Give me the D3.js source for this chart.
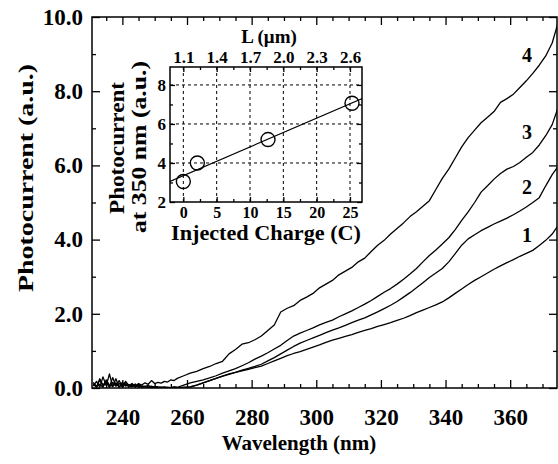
<!DOCTYPE html>
<html lang="en">
<head>
    <meta charset="UTF-8">
    <title>Photocurrent spectra</title>
    <script src="https://cdn.jsdelivr.net/npm/d3@7/dist/d3.min.js"></script>
    <style>
        body { margin: 0; background: #fff; }
        svg text { font-family: "Liberation Serif", "Times New Roman", serif; font-weight: bold; fill: #000; }
    </style>
</head>
<body>
<script>
    // wavelengths shared by all four spectra (nm)
    const wavelengths = [231, 232, 233, 234, 235, 236, 237, 238, 239, 240, 241, 242, 243, 244, 245, 246, 247, 248, 249, 250,
        251, 252, 253, 254, 255, 256, 257,
        259, 261, 263, 265, 267, 269, 271, 273, 275, 277, 279, 281, 283, 285, 287, 289, 291, 293, 295, 297, 299,
        301, 303, 305, 307, 309, 311, 313, 315, 317, 319, 321, 323, 325, 327, 329, 331, 333, 335, 337, 339,
        341, 343, 345, 347, 349, 351, 353, 355, 357, 359, 361, 363, 365, 367, 369, 371, 373, 375];

    // photocurrent (a.u.) of curves 1..4
    const curve1 = [0.15, 0.04, 0.10, 0.02, 0.22, 0.08, 0.05, 0.25, 0.03, 0.09, 0.14, 0.02, 0.07, 0.04, 0.10, 0.01, 0.05, 0.03, 0.00, 0.04,
        0.02, 0.01, 0.03, 0.00, 0.01, 0.00, 0.01,
        0.01, 0.03, 0.08, 0.14, 0.20, 0.26, 0.32, 0.37, 0.42, 0.46, 0.50, 0.55, 0.59, 0.66, 0.73, 0.80, 0.87, 0.93, 0.98, 1.04,
        1.10, 1.16, 1.23, 1.29, 1.34, 1.39, 1.44, 1.50, 1.55, 1.60, 1.66, 1.71, 1.76, 1.82, 1.88, 1.95, 2.03, 2.10, 2.17, 2.24,
        2.32, 2.43, 2.55, 2.67, 2.79, 2.90, 3.00, 3.10, 3.20, 3.29, 3.38, 3.46, 3.55, 3.63, 3.71, 3.84, 3.98, 4.15, 4.40];
    const curve2 = [0.05, 0.18, 0.02, 0.30, 0.06, 0.38, 0.04, 0.14, 0.02, 0.16, 0.05, 0.09, 0.03, 0.11, 0.02, 0.06, 0.04, 0.02, 0.05, 0.01,
        0.03, 0.00, 0.02, 0.01, 0.00, 0.02, 0.01,
        0.02, 0.03, 0.08, 0.14, 0.20, 0.26, 0.32, 0.38, 0.42, 0.48, 0.53, 0.58, 0.64, 0.73, 0.82, 0.92, 1.02, 1.12, 1.21, 1.28,
        1.35, 1.42, 1.49, 1.56, 1.62, 1.69, 1.76, 1.83, 1.89, 1.97, 2.05, 2.14, 2.23, 2.33, 2.45, 2.57, 2.70, 2.84, 2.98, 3.10,
        3.22, 3.40, 3.62, 3.85, 4.02, 4.13, 4.24, 4.33, 4.42, 4.50, 4.58, 4.67, 4.77, 4.88, 5.00, 5.13, 5.45, 5.75, 6.00];
    const curve3 = [0.12, 0.03, 0.25, 0.08, 0.18, 0.02, 0.15, 0.05, 0.20, 0.03, 0.10, 0.06, 0.12, 0.02, 0.08, 0.05, 0.03, 0.07, 0.02, 0.04,
        0.01, 0.03, 0.00, 0.02, 0.01, 0.03, 0.02,
        0.08, 0.14, 0.18, 0.22, 0.27, 0.33, 0.40, 0.46, 0.52, 0.60, 0.68, 0.78, 0.86, 0.95, 1.05, 1.15, 1.28, 1.40, 1.48, 1.55,
        1.62, 1.70, 1.77, 1.83, 1.92, 2.00, 2.08, 2.17, 2.26, 2.36, 2.47, 2.58, 2.68, 2.80, 2.93, 3.07, 3.22, 3.40, 3.57, 3.72,
        3.88, 4.05, 4.27, 4.52, 4.75, 5.00, 5.28, 5.45, 5.63, 5.78, 5.90, 5.97, 6.08, 6.22, 6.35, 6.55, 6.80, 7.10, 7.60];
    const curve4 = [0.10, 0.02, 0.22, 0.05, 0.15, 0.03, 0.28, 0.06, 0.12, 0.04, 0.18, 0.07, 0.10, 0.05, 0.12, 0.08, 0.14, 0.10, 0.20, 0.12,
        0.15, 0.13, 0.18, 0.16, 0.22, 0.20, 0.26,
        0.33, 0.40, 0.45, 0.52, 0.58, 0.66, 0.72, 0.92, 1.04, 1.18, 1.22, 1.30, 1.40, 1.55, 1.70, 2.05, 2.15, 2.22, 2.36, 2.45,
        2.55, 2.70, 2.80, 2.90, 3.05, 3.15, 3.25, 3.40, 3.50, 3.68, 3.85, 3.98, 4.15, 4.30, 4.45, 4.62, 4.75, 4.90, 5.05, 5.35,
        5.65, 5.90, 6.20, 6.50, 6.75, 6.95, 7.15, 7.30, 7.45, 7.70, 7.80, 7.92, 8.10, 8.28, 8.48, 8.70, 8.95, 9.30, 9.90];
    const curveNames = ['1', '2', '3', '4'];
    const curveLabelAt = [3.94, 5.23, 6.7, 8.8]; // photocurrent level of each number's baseline

    // main axis ticks
    const xTicks = [240, 260, 280, 300, 320, 340, 360];
    const yTicks = [0, 2, 4, 6, 8, 10];

    // inset: photocurrent at 350 nm vs injected charge
    const charge = [0, 2.1, 12.7, 25.3];
    const photo350 = [3.05, 4.0, 5.2, 7.06];
    const chargeTicks = [0, 5, 10, 15, 20, 25];
    const lengthLabels = ['1.1', '1.4', '1.7', '2.0', '2.3', '2.6'];
    const insetYTicks = [2, 4, 6, 8];

    // canvas
    const width = 558;
    const height = 464;
    const plot = {left: 92, right: 557, top: 17, bottom: 388};
    const inset = {left: 170, right: 362, top: 67, bottom: 202};

    let svg = d3.select('body')
        .append('svg')
        .attr('width', width)
        .attr('height', height);

    // scales
    let xScale = d3.scaleLinear().domain([230.6, 374.8]).range([plot.left, plot.right + 1]);
    let yScale = d3.scaleLinear().domain([0, 10]).range([plot.bottom, plot.top]);

    svg.append('clipPath').attr('id', 'plotClip')
        .append('rect')
        .attr('x', plot.left).attr('y', plot.top)
        .attr('width', plot.right - plot.left).attr('height', plot.bottom - plot.top);

    // spectra
    const curves = [curve1, curve2, curve3, curve4];
    let line = d3.line()
        .x((d, i) => xScale(wavelengths[i]))
        .y(d => yScale(d));

    svg.append('g')
        .attr('clip-path', 'url(#plotClip)')
        .selectAll('path')
        .data(curves)
        .enter()
        .append('path')
        .attr('d', d => line(d))
        .attr('fill', 'none')
        .attr('stroke', '#000')
        .attr('stroke-width', 1.3)
        .attr('stroke-linejoin', 'round');

    // curve numbers
    svg.selectAll('.curveName')
        .data(curveNames)
        .enter()
        .append('text')
        .attr('class', 'curveName')
        .attr('x', 527)
        .attr('y', (d, i) => yScale(curveLabelAt[i]))
        .attr('text-anchor', 'middle')
        .attr('font-size', 20)
        .text(d => d);

    // main axes, ticks pointing inward
    const minorX = d3.range(235, 375, 5).filter(v => v % 20 !== 0);
    const minorY = [1, 3, 5, 7, 9];

    function styleAxis(g) {
        g.select('.domain').remove();
        g.selectAll('line').attr('stroke', '#000').attr('stroke-width', 1.3);
    }

    svg.append('g')
        .attr('transform', `translate(0, ${plot.bottom})`)
        .call(d3.axisBottom(xScale).tickValues(xTicks).tickSize(-8).tickPadding(21).tickFormat(d3.format('d')))
        .call(styleAxis)
        .selectAll('text').attr('font-size', 23).attr('font-family', null);
    svg.append('g')
        .attr('transform', `translate(0, ${plot.bottom})`)
        .call(d3.axisBottom(xScale).tickValues(minorX).tickSize(-4).tickFormat(''))
        .call(styleAxis);
    svg.append('g')
        .attr('transform', `translate(0, ${plot.top})`)
        .call(d3.axisTop(xScale).tickValues(xTicks).tickSize(-8).tickFormat(''))
        .call(styleAxis);
    svg.append('g')
        .attr('transform', `translate(0, ${plot.top})`)
        .call(d3.axisTop(xScale).tickValues(minorX).tickSize(-4).tickFormat(''))
        .call(styleAxis);

    svg.append('g')
        .attr('transform', `translate(${plot.left}, 0)`)
        .call(d3.axisLeft(yScale).tickValues(yTicks).tickSize(-8).tickPadding(9).tickFormat(d3.format('.1f')))
        .call(styleAxis)
        .selectAll('text').attr('font-size', 23).attr('font-family', null);
    svg.append('g')
        .attr('transform', `translate(${plot.left}, 0)`)
        .call(d3.axisLeft(yScale).tickValues(minorY).tickSize(-4).tickFormat(''))
        .call(styleAxis);
    svg.append('g')
        .attr('transform', `translate(${plot.right}, 0)`)
        .call(d3.axisRight(yScale).tickValues(yTicks).tickSize(-8).tickFormat(''))
        .call(styleAxis);
    svg.append('g')
        .attr('transform', `translate(${plot.right}, 0)`)
        .call(d3.axisRight(yScale).tickValues(minorY).tickSize(-4).tickFormat(''))
        .call(styleAxis);

    // frame
    svg.append('rect')
        .attr('x', plot.left).attr('y', plot.top)
        .attr('width', plot.right - plot.left).attr('height', plot.bottom - plot.top)
        .attr('fill', 'none').attr('stroke', '#000').attr('stroke-width', 1.5);

    // axis titles
    svg.append('text')
        .attr('x', 299).attr('y', 450)
        .attr('text-anchor', 'middle')
        .attr('font-size', 21)
        .text('Wavelength (nm)');
    svg.append('text')
        .attr('transform', 'translate(33, 178) rotate(-90)')
        .attr('text-anchor', 'middle')
        .attr('font-size', 21)
        .attr('textLength', 228)
        .attr('lengthAdjust', 'spacingAndGlyphs')
        .text('Photocurrent (a.u.)');

    // ---------- inset ----------
    let xIn = d3.scaleLinear().domain([-2, 26.8]).range([inset.left, inset.right]);
    let yIn = d3.scaleLinear().domain([2, 8.92]).range([inset.bottom, inset.top]);

    svg.append('rect')
        .attr('x', inset.left).attr('y', inset.top)
        .attr('width', inset.right - inset.left).attr('height', inset.bottom - inset.top)
        .attr('fill', '#fff');

    svg.append('clipPath').attr('id', 'insetClip')
        .append('rect')
        .attr('x', inset.left).attr('y', inset.top)
        .attr('width', inset.right - inset.left).attr('height', inset.bottom - inset.top);

    // dashed grid
    let grid = svg.append('g').attr('stroke', '#000').attr('stroke-width', 1).attr('stroke-dasharray', '3,3');
    grid.selectAll('.vgrid')
        .data(chargeTicks)
        .enter()
        .append('line')
        .attr('x1', d => xIn(d)).attr('x2', d => xIn(d))
        .attr('y1', inset.top).attr('y2', inset.bottom);
    grid.selectAll('.hgrid')
        .data([4, 6, 8])
        .enter()
        .append('line')
        .attr('x1', inset.left).attr('x2', inset.right)
        .attr('y1', d => yIn(d)).attr('y2', d => yIn(d));

    // linear fit through the four points
    const meanQ = d3.mean(charge);
    const meanP = d3.mean(photo350);
    const slope = d3.sum(charge, (q, i) => (q - meanQ) * (photo350[i] - meanP)) /
        d3.sum(charge, q => (q - meanQ) * (q - meanQ));
    const intercept = meanP - slope * meanQ;
    svg.append('line')
        .attr('clip-path', 'url(#insetClip)')
        .attr('x1', xIn(-2)).attr('y1', yIn(intercept + slope * -2))
        .attr('x2', xIn(27)).attr('y2', yIn(intercept + slope * 27))
        .attr('stroke', '#000').attr('stroke-width', 1.2);

    svg.selectAll('.pt')
        .data(charge)
        .enter()
        .append('circle')
        .attr('class', 'pt')
        .attr('cx', d => xIn(d))
        .attr('cy', (d, i) => yIn(photo350[i]))
        .attr('r', 7)
        .attr('fill', 'none')
        .attr('stroke', '#000')
        .attr('stroke-width', 1.4);

    // inset axes
    const minorCharge = [2.5, 7.5, 12.5, 17.5, 22.5];
    svg.append('g')
        .attr('transform', `translate(0, ${inset.bottom})`)
        .call(d3.axisBottom(xIn).tickValues(chargeTicks).tickSize(-5).tickPadding(5).tickFormat(d3.format('d')))
        .call(styleAxis)
        .selectAll('text').attr('font-size', 16).attr('font-family', null);
    svg.append('g')
        .attr('transform', `translate(0, ${inset.bottom})`)
        .call(d3.axisBottom(xIn).tickValues(minorCharge).tickSize(-3).tickFormat(''))
        .call(styleAxis);
    svg.append('g')
        .attr('transform', `translate(0, ${inset.top})`)
        .call(d3.axisTop(xIn).tickValues(chargeTicks).tickSize(-5).tickPadding(4).tickFormat((d, i) => lengthLabels[i]))
        .call(styleAxis)
        .selectAll('text').attr('font-size', 17).attr('font-family', null);
    svg.append('g')
        .attr('transform', `translate(0, ${inset.top})`)
        .call(d3.axisTop(xIn).tickValues(minorCharge).tickSize(-3).tickFormat(''))
        .call(styleAxis);
    svg.append('g')
        .attr('transform', `translate(${inset.left}, 0)`)
        .call(d3.axisLeft(yIn).tickValues(insetYTicks).tickSize(-5).tickPadding(4).tickFormat(d3.format('d')))
        .call(styleAxis)
        .selectAll('text').attr('font-size', 17).attr('font-family', null);
    svg.append('g')
        .attr('transform', `translate(${inset.left}, 0)`)
        .call(d3.axisLeft(yIn).tickValues([3, 5, 7]).tickSize(-3).tickFormat(''))
        .call(styleAxis);
    svg.append('g')
        .attr('transform', `translate(${inset.right}, 0)`)
        .call(d3.axisRight(yIn).tickValues(insetYTicks).tickSize(-5).tickFormat(''))
        .call(styleAxis);
    svg.append('g')
        .attr('transform', `translate(${inset.right}, 0)`)
        .call(d3.axisRight(yIn).tickValues([3, 5, 7]).tickSize(-3).tickFormat(''))
        .call(styleAxis);

    svg.append('rect')
        .attr('x', inset.left).attr('y', inset.top)
        .attr('width', inset.right - inset.left).attr('height', inset.bottom - inset.top)
        .attr('fill', 'none').attr('stroke', '#000').attr('stroke-width', 1.5);

    // inset titles
    svg.append('text')
        .attr('x', 269).attr('y', 43)
        .attr('text-anchor', 'middle')
        .attr('font-size', 19)
        .text('L (\u03bcm)');
    svg.append('text')
        .attr('x', 266).attr('y', 240)
        .attr('text-anchor', 'middle')
        .attr('font-size', 20)
        .attr('textLength', 190)
        .attr('lengthAdjust', 'spacingAndGlyphs')
        .text('Injected Charge (C)');
    svg.append('text')
        .attr('transform', 'translate(124, 148) rotate(-90)')
        .attr('text-anchor', 'middle')
        .attr('font-size', 20)
        .attr('textLength', 132)
        .attr('lengthAdjust', 'spacingAndGlyphs')
        .text('Photocurrent');
    svg.append('text')
        .attr('transform', 'translate(146, 147) rotate(-90)')
        .attr('text-anchor', 'middle')
        .attr('font-size', 20)
        .attr('textLength', 172)
        .attr('lengthAdjust', 'spacingAndGlyphs')
        .text('at 350 nm (a.u.)');
</script>
</body>
</html>
